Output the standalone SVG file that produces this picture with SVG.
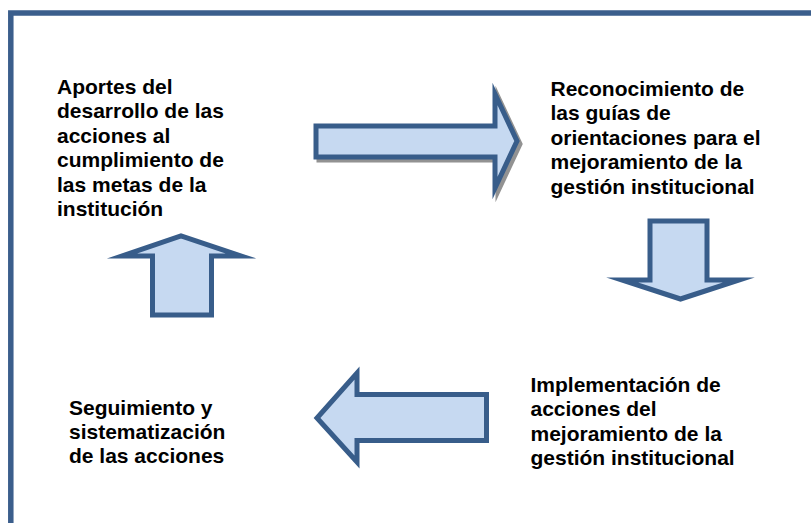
<svg xmlns="http://www.w3.org/2000/svg" width="811" height="523" viewBox="0 0 811 523">
<style>
.frame{fill:none;stroke:#3b5e8c;stroke-width:5.5}
.arrow{fill:#c6d9f1;stroke:#385d8a;stroke-width:5;stroke-linejoin:miter;stroke-miterlimit:10}
.shadow{fill:#7f7f7f;stroke:#7f7f7f;stroke-width:5;stroke-linejoin:miter;stroke-miterlimit:10;opacity:0.85}
.t{font-family:"Liberation Sans",Arial,sans-serif;font-weight:bold;font-size:21px;fill:#000}
</style>
<rect width="811" height="523" fill="#fff"/>
<rect class="frame" x="10.8" y="13" width="830" height="540"/>
<g id="connectors">
  <g id="arrow-right">
    <path class="shadow" d="M319,129 H498 V97 L520,144 L498,191 V160 H319 Z"/>
    <path class="arrow" d="M316,126 H495 V94 L517,141 L495,188 V157 H316 Z"/>
  </g>
  <g id="arrow-down">
    <path class="arrow" d="M650,221 H707 V280 H739 L680.5,299 L622,280 H650 Z"/>
  </g>
  <g id="arrow-left">
    <path class="arrow" d="M486.5,394.5 H357 V373 L317,418 L357,462 V440.5 H486.5 Z"/>
  </g>
  <g id="arrow-up">
    <path class="arrow" d="M152.5,315 V256 H122 L181,236 L241,256 H211.5 V315 Z"/>
  </g>
</g>
<g id="node-aportes">
  <text class="t" x="57" y="93.5">Aportes del</text>
  <text class="t" x="57" y="118">desarrollo de las</text>
  <text class="t" x="57" y="142.5">acciones al</text>
  <text class="t" x="57" y="167">cumplimiento de</text>
  <text class="t" x="57" y="191.5">las metas de la</text>
  <text class="t" x="57" y="216">institución</text>
</g>
<g id="node-reconocimiento">
  <text class="t" x="550.5" y="95.5">Reconocimiento de</text>
  <text class="t" x="550.5" y="120">las guías de</text>
  <text class="t" x="550.5" y="144.5">orientaciones para el</text>
  <text class="t" x="550.5" y="169">mejoramiento de la</text>
  <text class="t" x="550.5" y="193.5">gestión institucional</text>
</g>
<g id="node-implementacion">
  <text class="t" x="530.5" y="392">Implementación de</text>
  <text class="t" x="530.5" y="416.3">acciones del</text>
  <text class="t" x="530.5" y="440.6">mejoramiento de la</text>
  <text class="t" x="530.5" y="465">gestión institucional</text>
</g>
<g id="node-seguimiento">
  <text class="t" x="69" y="415">Seguimiento y</text>
  <text class="t" x="69" y="439">sistematización</text>
  <text class="t" x="69" y="463">de las acciones</text>
</g>
</svg>
